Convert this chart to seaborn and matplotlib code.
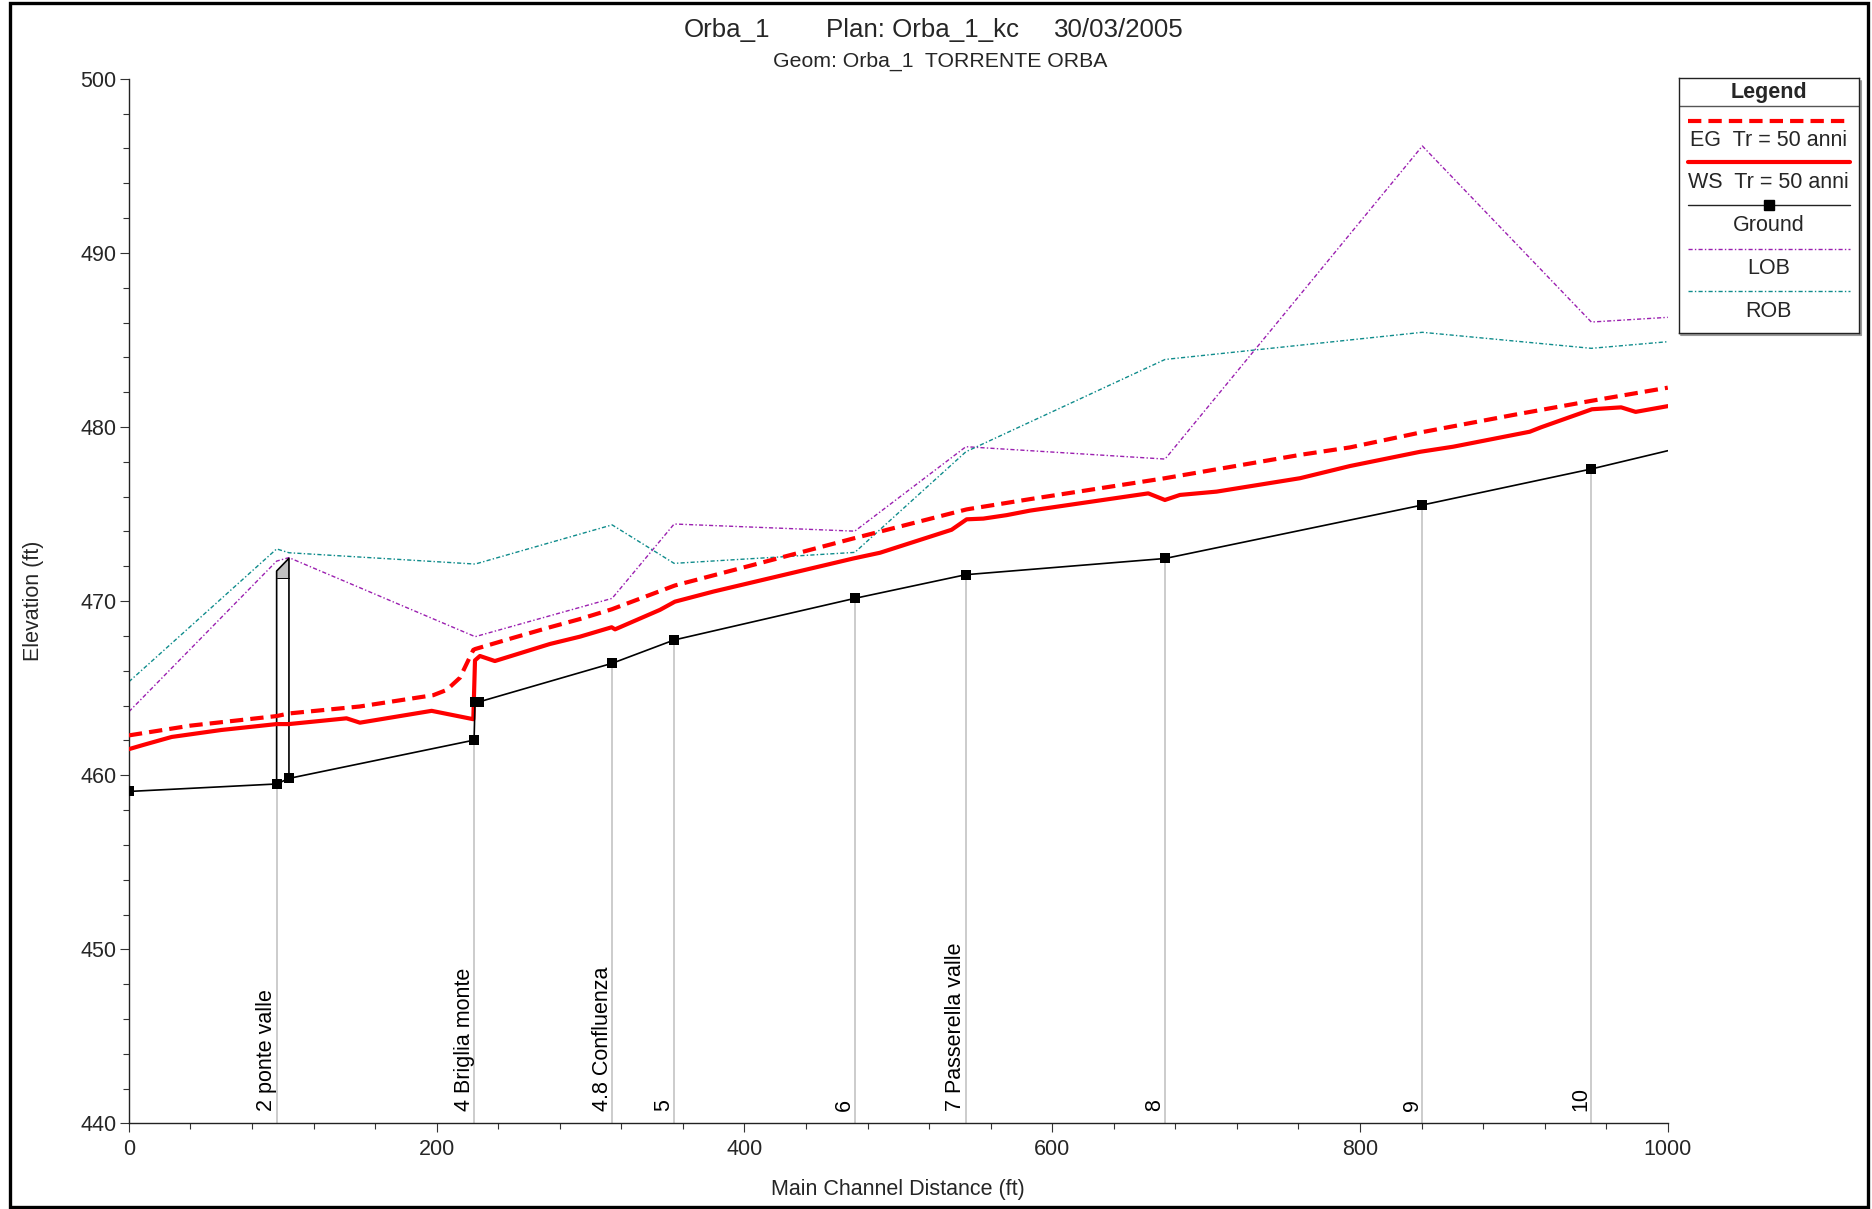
import numpy as np
import pandas as pd
import matplotlib
matplotlib.use("Agg")
import matplotlib.pyplot as plt
import seaborn as sns
from matplotlib.patches import Rectangle
from matplotlib.lines import Line2D

# ---------------- data ----------------
ground_x = [0, 96, 104, 224.3, 224.9, 227.7, 314, 354.3, 471.7, 543.9, 673.3, 840.5, 950.3, 1000]
ground_y = [459.07, 459.5, 459.82, 462.02, 464.22, 464.22, 466.43, 467.77, 470.16, 471.52, 472.45, 475.52, 477.59, 478.64]

lob_x = [0, 96, 104, 225, 293, 314, 354.3, 471.7, 543.9, 673.3, 840.5, 950.3, 1000]
lob_y = [463.65, 472.3, 472.5, 467.96, 469.64, 470.16, 474.43, 474.02, 478.87, 478.16, 496.14, 486.03, 486.3]

rob_x = [0, 96, 104, 225, 314, 354.3, 471.7, 543.9, 673.3, 840.5, 950.3, 1000]
rob_y = [465.37, 473.0, 472.78, 472.13, 474.38, 472.17, 472.8, 478.58, 483.88, 485.44, 484.52, 484.9]

ws_x = [0, 9.3, 27.8, 60, 96, 104, 141.4, 150.1, 196.7, 223.8, 224.9, 228.1, 237.8, 273.6,
        293.1, 313.7, 315.9, 345.1, 354.8, 379.8, 470.7, 488.1, 534.6, 544.4, 555.2, 570.4,
        585.6, 662.4, 673.2, 683, 706.8, 761, 793.5, 839.2, 860.6, 910.3, 917.5, 950.7,
        969.7, 979.1, 1000]
ws_y = [461.5, 461.74, 462.2, 462.6, 462.94, 462.94, 463.27, 463.02, 463.7, 463.22, 466.6,
        466.85, 466.56, 467.54, 467.96, 468.5, 468.38, 469.5, 469.97, 470.55, 472.45, 472.78,
        474.1, 474.7, 474.74, 474.94, 475.2, 476.19, 475.81, 476.1, 476.29, 477.06, 477.76,
        478.58, 478.87, 479.73, 479.98, 481.02, 481.13, 480.87, 481.2]

eg_x = [0, 40, 96, 104, 150, 197.8, 206.5, 215.1, 223.8, 225, 250, 273.6, 293, 313.7, 354.8,
        400, 470.7, 544.4, 585.6, 673.2, 761, 793.5, 840, 900, 950, 1000]
eg_y = [462.29, 462.85, 463.4, 463.55, 463.95, 464.6, 464.9, 465.6, 467.2, 467.25, 467.9,
        468.5, 468.97, 469.53, 470.9, 471.95, 473.6, 475.27, 475.86, 477.06, 478.4, 478.83,
        479.7, 480.7, 481.5, 482.26]

xs_station = [96, 224.3, 314, 354.3, 471.7, 543.9, 673.3, 840.5, 950.3]
xs_ground = [459.5, 462.02, 466.43, 467.77, 470.16, 471.52, 472.45, 475.52, 477.59]
xs_label = ["2 ponte valle", "4 Briglia monte", "4.8 Confluenza", "5", "6",
            "7 Passerella valle", "8", "9", "10"]

bridge_x = [96, 104]
bridge_ground = [459.5, 459.82]
bridge_low = [471.31, 471.31]
bridge_high = [471.73, 472.46]

legend_labels = ["EG  Tr = 50 anni", "WS  Tr = 50 anni", "Ground", "LOB", "ROB"]

title_parts = ["Orba_1", "Plan: Orba_1_kc", "30/03/2005"]
subtitle = "Geom: Orba_1  TORRENTE ORBA"

# ---------------- style ----------------
sns.set_style("ticks")
plt.rcParams['font.family'] = ['Liberation Sans', 'DejaVu Sans']
FS = 15.5

RED = "#ff0000"
LOBC = "#9b1fb0"
ROBC = "#0f8c8c"
GRAYV = "#c8c8c8"

EG_LS = (0, (3.2, 1.7))
BANK_LS = (0, (3, 1.6, 1, 1.6))

fig = plt.figure(figsize=(18.72, 12.09), dpi=100)
ax = fig.add_axes([0.06886, 0.07072, 0.82206, 0.86411])

# cross-section vertical grey lines
ax.vlines(xs_station, 440, xs_ground, color=GRAYV, lw=1.3, zorder=1)

# bridge
ax.fill_between(bridge_x, bridge_low, bridge_high, color="#c0c0c0", zorder=2, lw=0)
ax.plot([bridge_x[0], bridge_x[0], bridge_x[1], bridge_x[1]],
        [bridge_ground[0], bridge_high[0], bridge_high[1], bridge_ground[1]],
        color="black", lw=1.2, zorder=3)
ax.plot(bridge_x, bridge_low, color="black", lw=0.7, zorder=3)

# bank lines
sns.lineplot(x=lob_x, y=lob_y, estimator=None, sort=False, ax=ax, color=LOBC,
             lw=1.0, linestyle=BANK_LS, zorder=2)
sns.lineplot(x=rob_x, y=rob_y, estimator=None, sort=False, ax=ax, color=ROBC,
             lw=1.0, linestyle=BANK_LS, zorder=2)

# water surfaces
sns.lineplot(x=ws_x, y=ws_y, estimator=None, sort=False, ax=ax, color=RED,
             lw=3.0, zorder=4)
sns.lineplot(x=eg_x, y=eg_y, estimator=None, sort=False, ax=ax, color=RED,
             lw=3.0, linestyle=EG_LS, zorder=4)

# ground
sns.lineplot(x=ground_x, y=ground_y, estimator=None, sort=False, ax=ax, color="black",
             lw=1.2, zorder=5)
sns.scatterplot(x=ground_x[:-1], y=ground_y[:-1], marker="s", s=62, color="black",
                linewidth=0, ax=ax, zorder=6)

# cross-section labels
for xs, lab in zip(xs_station, xs_label):
    ax.text(xs + 0.3, 440.7, lab, rotation=90, ha="right", va="bottom",
            fontsize=FS, color="black", zorder=7)

ax.set_xlim(0, 1000)
ax.set_ylim(440, 500)
ax.set_xticks(np.arange(0, 1001, 200))
ax.set_xticks(np.arange(0, 1001, 40), minor=True)
ax.set_yticks(np.arange(440, 501, 10))
ax.set_yticks(np.arange(440, 501, 2), minor=True)
for s in ["top", "right"]:
    ax.spines[s].set_visible(False)
for s in ["left", "bottom"]:
    ax.spines[s].set_color("#222222")
    ax.spines[s].set_linewidth(1.0)
ax.tick_params(which="major", length=6.5, width=0.8, color="#333333", labelsize=FS, pad=2.5)
ax.tick_params(axis="x", which="major", pad=4.5)
ax.tick_params(which="minor", length=4, width=0.8, color="#333333")
ax.set_xlabel("Main Channel Distance (ft)", fontsize=FS)
ax.set_ylabel("Elevation (ft)", fontsize=FS)
ax.xaxis.set_label_coords(0.5, -0.0627)
ax.xaxis.label.set_va("center")
ax.yaxis.set_label_coords(-0.0623, 0.5)
ax.yaxis.label.set_va("center")
ax.set_facecolor("white")

# titles
fig.text(684 / 1872, 1 - 30 / 1209, title_parts[0], fontsize=18.6, ha="left", va="center")
fig.text(826 / 1872, 1 - 30 / 1209, title_parts[1], fontsize=18.6, ha="left", va="center")
fig.text(1054 / 1872, 1 - 30 / 1209, title_parts[2], fontsize=18.6, ha="left", va="center")
fig.text(940 / 1872, 1 - 61 / 1209, subtitle, fontsize=15.3, ha="center", va="center")

# legend box (manual, HEC-RAS style)
lx0, lx1, ly0, ly1 = 1678.6, 1858.9, 77.6, 333.0
lax = fig.add_axes([lx0 / 1872, 1 - ly1 / 1209, (lx1 - lx0) / 1872, (ly1 - ly0) / 1209])
lax.set_zorder(5)
lax.set_xlim(0, 1)
lax.set_ylim(1, 0)
lax.set_xticks([])
lax.set_yticks([])
lax.set_facecolor("white")
for s in lax.spines.values():
    s.set_visible(True)
    s.set_color("#222222")
    s.set_linewidth(1.0)
# thin grey shadow along right and bottom edges
lax.add_line(Line2D([1.012, 1.012], [0.012, 1.008], color="#9a9a9a", lw=1.5, clip_on=False))
lax.add_line(Line2D([0.012, 1.012], [1.008, 1.008], color="#9a9a9a", lw=1.5, clip_on=False))
lax.text(0.5, 0.058, "Legend", fontsize=FS, fontweight="bold", ha="center", va="center")
lax.axhline(0.111, color="#555555", lw=1.0)
styles = [
    dict(color=RED, lw=3.0, ls=EG_LS),
    dict(color=RED, lw=3.0, ls="-"),
    dict(color="#222222", lw=1.0, ls="-"),
    dict(color=LOBC, lw=1.0, ls=BANK_LS),
    dict(color=ROBC, lw=1.0, ls=BANK_LS),
]
line_y = [0.168, 0.332, 0.500, 0.673, 0.837]
text_y = [0.247, 0.411, 0.579, 0.749, 0.916]
for st, yl, yt, lab in zip(styles, line_y, text_y, legend_labels):
    lax.add_line(Line2D([0.052, 0.951], [yl, yl], **st))
    lax.text(0.5, yt, lab, fontsize=FS, ha="center", va="center")
lax.plot([0.5], [0.500], marker="s", ms=7, color="black", ls="none")

# outer frame
frame = Rectangle((9.5 / 1872, 2.5 / 1209), (1868 - 9.5) / 1872, (1206.5 - 2.5) / 1209,
                  transform=fig.transFigure, fill=False, edgecolor="black", lw=2.4)
fig.patches.append(frame)

fig.savefig("out.png", dpi=100, facecolor="white")
